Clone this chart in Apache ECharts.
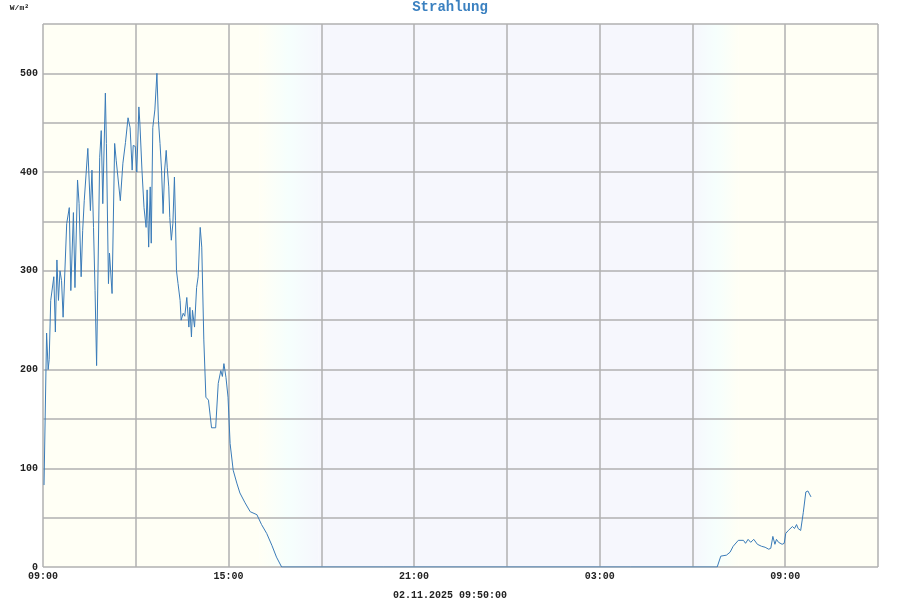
<!DOCTYPE html>
<html>
<head>
<meta charset="utf-8">
<script src="https://cdn.jsdelivr.net/npm/echarts@6/dist/echarts.min.js"></script>
<style>html,body{margin:0;padding:0;background:#fff}#c{width:900px;height:600px}</style>
</head>
<body>
<div id="c"></div>
<script>
// ---- data (times as HH:MM, starting 01.11.2025 09:00; wrap past midnight) ----
const chartTitle = "Strahlung";
const unitLabel = "W/m²";
const stampLabel = "02.11.2025 09:50:00";
const xTickLabels = ["09:00", "15:00", "21:00", "03:00", "09:00"];
const times = [
 "09:02","09:07","09:10","09:12","09:15","09:21","09:24","09:27","09:30","09:33","09:36","09:39",
 "09:46","09:51","09:54","09:59","10:02","10:07","10:10","10:14","10:17","10:20","10:27","10:32",
 "10:35","10:38","10:41","10:44","10:50","10:53","10:56","11:01","11:03","11:07","11:09","11:14",
 "11:19","11:22","11:25","11:30","11:35","11:40","11:45","11:49","11:53","11:55","11:59","12:02",
 "12:06","12:08","12:12","12:16","12:20","12:22","12:25","12:28","12:30","12:33","12:37","12:41",
 "12:44","12:47","12:50","12:53","12:56","12:59","13:01","13:04","13:06","13:09","13:12","13:15",
 "13:17","13:19","13:22","13:26","13:28","13:32","13:35","13:39","13:43","13:45","13:48","13:50",
 "13:54","13:58","14:01","14:05","14:08","14:12","14:16","14:21","14:24","14:27","14:35","14:40",
 "14:45","14:48","14:51","14:55","14:59","15:03","15:09","15:16","15:22","15:32","15:42","15:55",
 "15:58","16:04","16:14","16:24","16:33","16:43","20:00","00:00","04:00","06:48","06:55","07:06",
 "07:13","07:19","07:29","07:39","07:43","07:48","07:53","07:59","08:06","08:14","08:21","08:24",
 "08:28","08:32","08:36","08:40","08:43","08:47","08:50","08:54","08:58","09:01","09:06","09:09",
 "09:14","09:18","09:22","09:25","09:30","09:35","09:40","09:44","09:50"
];
const radiation = [
 83,237,200,210,270,294,238,311,270,300,290,253,
 348,364,280,359,283,392,368,294,341,371,424,361,
 402,344,280,204,415,442,368,480,429,287,318,277,
 429,412,412,371,409,430,455,445,402,427,426,400,
 466,449,402,364,344,382,324,385,328,445,463,500,
 452,429,402,358,402,422,405,385,354,331,348,395,
 351,300,287,270,250,257,254,273,243,263,233,260,
 243,283,294,344,324,230,172,169,167,141,141,186,
 199,193,206,192,172,125,98,85,75,65,56,53,
 55,43,34,22,10,0,0,0,0,0,11,12,
 15,21,27,27,24,28,25,28,23,21,20,21,
 18,19,31,23,28,25,27,23,24,34,37,36,
 41,39,43,39,37,55,76,77,71
];
// background phases (hours after 01.11. 09:00)
const dayEnd = 7.0, nightStart = 8.9, nightEnd = 21.0, dayStart = 22.5, axisEnd = 27;

// ---- build ----
const toHours = (() => {
  let dayOff = 0, prev = -1;
  return t => {
    const [h, m] = t.split(":").map(Number);
    let mins = h * 60 + m;
    if (mins < prev) dayOff += 1440;
    prev = mins;
    return (mins + dayOff - 540) / 60;
  };
})();
const seriesData = times.map((t, i) => [toHours(t), radiation[i]]);

const DAY = '#fffff5', NIGHT = '#f6f7fd', MID = '#f6fffd';
const grad = (a, b) => ({type:'linear', x:0, y:0, x2:1, y2:0,
  colorStops:[{offset:0,color:a},{offset:0.5,color:MID},{offset:1,color:b}]});

const font = '"Liberation Mono", "DejaVu Sans Mono", monospace';
const chart = echarts.init(document.getElementById('c'), null, {renderer:'canvas'});
chart.setOption({
  animation: false,
  backgroundColor: '#ffffff',
  title: [
    {text: chartTitle, left: 'center', top: 0, padding: 0,
     textStyle: {fontFamily: font, fontSize: 14, fontWeight: 'bold', color: '#3a80c0'}},
    {text: stampLabel, left: 'center', bottom: 0, padding: 0,
     textStyle: {fontFamily: font, fontSize: 10, fontWeight: 'bold', color: '#222'}}
  ],
  grid: {left: 43, right: 22, top: 24, bottom: 33},
  xAxis: {
    type: 'value', min: 0, max: axisEnd, interval: 3, z: 2,
    axisLine: {show: false}, axisTick: {show: false},
    splitLine: {show: true, lineStyle: {color: '#b0b0b0', width: 1.5}},
    axisLabel: {
      margin: 4, fontFamily: font, fontSize: 10, fontWeight: 'bold', color: '#222',
      formatter: v => (v % 6 === 0 ? xTickLabels[v / 6] : '')
    }
  },
  yAxis: {
    type: 'value', min: 0, max: 550, interval: 50, z: 2,
    name: unitLabel, nameLocation: 'end', nameGap: 12,
    nameTextStyle: {fontFamily: font, fontSize: 8, fontWeight: 'bold', color: '#222', align: 'right', padding: [0, 14, 0, 0]},
    axisLine: {show: false}, axisTick: {show: false},
    splitLine: {show: true, lineStyle: {color: '#b0b0b0', width: 1.5}},
    axisLabel: {
      margin: 5, fontFamily: font, fontSize: 10, fontWeight: 'bold', color: '#222',
      formatter: v => (v % 100 === 0 ? String(v) : '')
    }
  },
  series: [
    {
      type: 'line', data: [], z: 0, silent: true,
      markArea: {
        silent: true,
        data: [
          [{xAxis: 0, itemStyle: {color: DAY}}, {xAxis: dayEnd}],
          [{xAxis: dayEnd, itemStyle: {color: grad(DAY, NIGHT)}}, {xAxis: nightStart}],
          [{xAxis: nightStart, itemStyle: {color: NIGHT}}, {xAxis: nightEnd}],
          [{xAxis: nightEnd, itemStyle: {color: grad(NIGHT, DAY)}}, {xAxis: dayStart}],
          [{xAxis: dayStart, itemStyle: {color: DAY}}, {xAxis: axisEnd}]
        ]
      }
    },
    {
      type: 'line', data: seriesData, showSymbol: false, symbol: 'none',
      lineStyle: {color: '#3a7bb8', width: 1}, z: 5
    }
  ]
});
</script>
</body>
</html>
